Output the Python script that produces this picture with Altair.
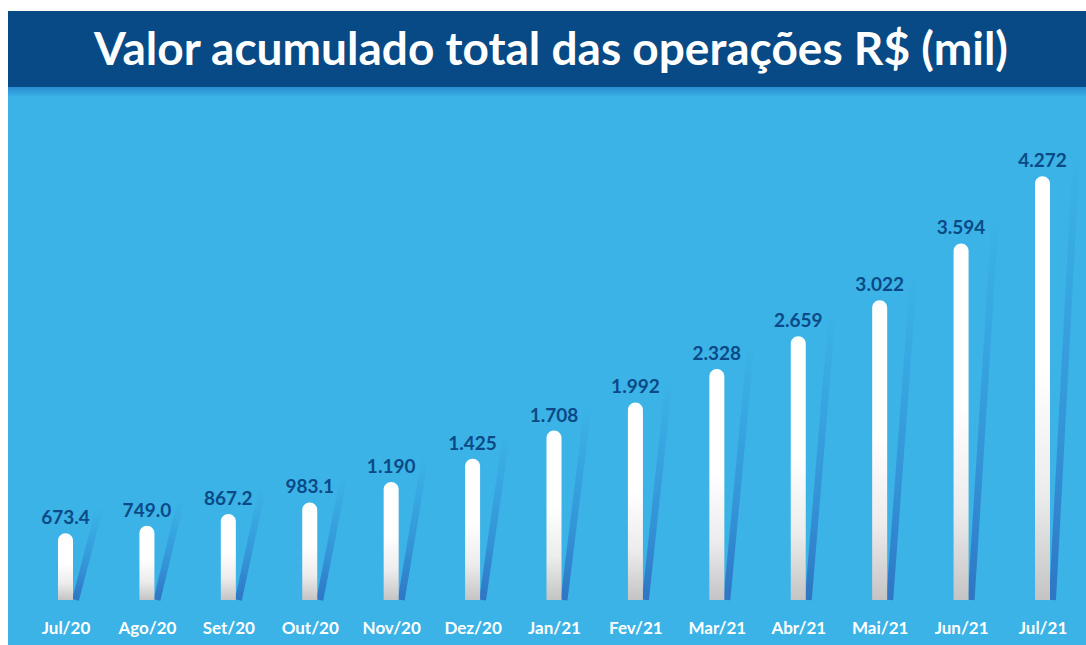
import altair as alt
import pandas as pd

title_text = "Valor acumulado total das operações R$ (mil)"
months = ["Jul/20", "Ago/20", "Set/20", "Out/20", "Nov/20", "Dez/20", "Jan/21",
          "Fev/21", "Mar/21", "Abr/21", "Mai/21", "Jun/21", "Jul/21"]
values = [673.4, 749.0, 867.2, 983.1, 1190, 1425, 1708, 1992, 2328, 2659, 3022, 3594, 4272]
value_labels = ["673.4", "749.0", "867.2", "983.1", "1.190", "1.425", "1.708",
                "1.992", "2.328", "2.659", "3.022", "3.594", "4.272"]

df = pd.DataFrame({"mes": months, "valor": values, "rotulo": value_labels})
df["base"] = 0.0
title_df = pd.DataFrame({"t": [title_text]})

W, H = 1078, 634
BG = "#3bb3e6"
DARK = "#074a85"
FONT = "Lato"

x_enc = alt.X("mes:N", sort=months,
              scale=alt.Scale(type="point", range=[57.5, 1034.5], padding=0),
              axis=alt.Axis(title=None, orient="bottom", offset=-17, ticks=False, tickSize=0,
                            domain=False, grid=False, labelAngle=0, labelPadding=0,
                            labelBaseline="middle", labelColor="white", labelFont=FONT,
                            labelFontSize=17, labelFontWeight="bold"))
y_scale = alt.Scale(domain=[-454, 5938], nice=False, zero=False)

band = alt.Chart(title_df).mark_rect(color=DARK).encode(
    x=alt.value(0), x2=alt.value(W), y=alt.value(0), y2=alt.value(76))
band_shadow = alt.Chart(title_df).mark_rect(
    fill=alt.Gradient(gradient="linear", x1=0, y1=0, x2=0, y2=1,
                      stops=[alt.GradientStop(offset=0, color="#2a8bd0"),
                             alt.GradientStop(offset=1, color=BG)])
).encode(x=alt.value(0), x2=alt.value(W), y=alt.value(76), y2=alt.value(86))
title = alt.Chart(title_df).mark_text(
    font=FONT, fontSize=46, fontWeight="bold", color="white", align="center", baseline="middle"
).encode(x=alt.value(543), y=alt.value(40), text="t:N")

streaks = alt.Chart(df).mark_rule(
    xOffset=34, x2Offset=10, yOffset=-25, strokeWidth=7, strokeCap="butt",
    stroke=alt.Gradient(gradient="linear", x1=0, y1=1, x2=0, y2=0,
                        stops=[alt.GradientStop(offset=0, color="#2e76c4"),
                               alt.GradientStop(offset=0.35, color="#3493d7"),
                               alt.GradientStop(offset=0.75, color="#38a9e2"),
                               alt.GradientStop(offset=1, color=BG)])
).encode(x=x_enc, x2=alt.X2("mes:N"),
         y=alt.Y("valor:Q", scale=y_scale, axis=None), y2=alt.Y2("base:Q"))

bars = alt.Chart(df).mark_bar(
    size=15, cornerRadiusTopLeft=7.5, cornerRadiusTopRight=7.5,
    fill=alt.Gradient(gradient="linear", x1=0, y1=0, x2=0, y2=1,
                      stops=[alt.GradientStop(offset=0, color="#ffffff"),
                             alt.GradientStop(offset=0.45, color="#ffffff"),
                             alt.GradientStop(offset=0.75, color="#ececec"),
                             alt.GradientStop(offset=1, color="#c4c4c4")])
).encode(x=x_enc, y=alt.Y("valor:Q", scale=y_scale, axis=None), y2=alt.Y2("base:Q"))

texts = alt.Chart(df).mark_text(
    font=FONT, fontSize=19, fontWeight="bold", color="#0b4a86", align="center",
    baseline="alphabetic", dy=-9
).encode(x=x_enc, y=alt.Y("valor:Q", scale=y_scale, axis=None), text="rotulo:N")

chart = alt.layer(band, band_shadow, title, streaks, bars, texts).properties(
    width=W, height=H,
    padding={"left": 8, "top": 11, "right": 0, "bottom": 0},
    autosize=alt.AutoSizeParams(type="none"),
    background="white",
).configure_view(fill=BG, stroke=None)

chart.save("out.html", embed_options={"renderer": "svg", "actions": False})
